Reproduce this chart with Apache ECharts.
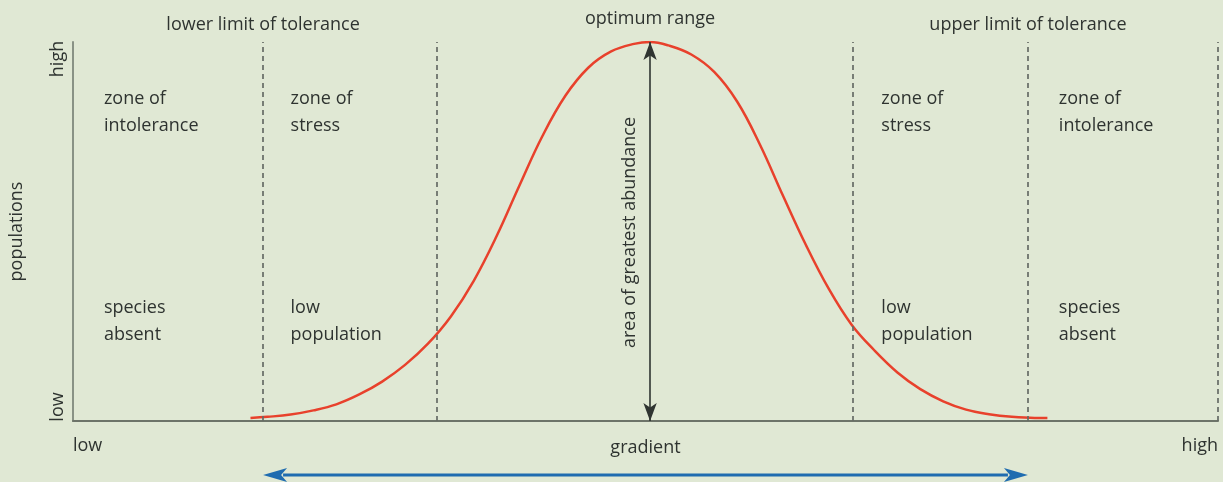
<!DOCTYPE html>
<html>
<head>
<meta charset="utf-8">
<title>Range of tolerance</title>
<script src="https://cdn.jsdelivr.net/npm/echarts@6/dist/echarts.min.js"></script>
<style>
  html, body { margin: 0; padding: 0; background: #e0e8d4; }
  #chart { width: 1223px; height: 482px; }
</style>
</head>
<body>
<div id="chart"></div>
<script>
// Population along an environmental gradient (gradient 0–100, population 0–100)
const gradientX = [15.5, 17, 19, 21, 23, 25, 27, 29, 31, 33, 35, 37, 39, 41, 43, 45, 47, 49, 50.4,
  52, 54, 56, 58, 60, 62, 64, 66, 68, 70, 72, 74, 76, 78, 80, 82, 84, 85.1];
const population = [0.8, 1.1, 1.7, 2.8, 4.4, 7.0, 10.4, 14.8, 20.4, 27.6, 37.0, 48.8, 62.2, 75.2, 85.8, 93.2, 97.5, 99.5, 100,
  99.1, 96.7, 92.1, 84.3, 72.9, 59.5, 46.5, 34.9, 25.4, 18.6, 12.8, 8.4, 5.2, 3.0, 1.8, 1.1, 0.8, 0.8];

// Zone boundaries on the gradient
const lowerLimit = 16.6;
const optimumLow = 31.8;
const optimum = 50.4;
const optimumHigh = 68.1;
const upperLimit = 83.4;
const gradientMax = 100;
const boundaries = [lowerLimit, optimumLow, optimumHigh, upperLimit, gradientMax];

// Axis end labels
const xTickLabels = ['low', 'high'];
const yTickLabels = ['low', 'high'];

// Zone captions: gradient position, population level, text
const zoneX = [2.7, 19.0, 70.6, 86.1];
const zoneUpperY = 85.2;
const zoneLowerY = 30.1;
const zoneUpperText = ['zone of\nintolerance', 'zone of\nstress', 'zone of\nstress', 'zone of\nintolerance'];
const zoneLowerText = ['species\nabsent', 'low\npopulation', 'low\npopulation', 'species\nabsent'];

const FONT = '"Open Sans", "Noto Sans", sans-serif';
const TEXT_COLOR = '#2e3330';
const FS = 18;

const chart = echarts.init(document.getElementById('chart'), null, { renderer: 'canvas' });

chart.setOption({
  backgroundColor: '#e0e8d4',
  animation: false,
  grid: { left: 73, right: 5, top: 42, bottom: 61, containLabel: false, outerBoundsMode: 'none' },
  xAxis: {
    type: 'value', min: 0, max: gradientMax, interval: gradientMax,
    name: 'gradient', nameLocation: 'middle', nameGap: 18, nameMoveOverlap: false,
    nameTextStyle: { fontFamily: FONT, fontSize: FS, color: TEXT_COLOR },
    axisLine: { onZero: false, lineStyle: { color: '#6d7469', width: 2 } },
    axisTick: { show: false },
    splitLine: { show: false },
    axisLabel: {
      margin: 16, fontFamily: FONT, fontSize: FS, color: TEXT_COLOR,
      showMinLabel: true, showMaxLabel: true,
      alignMinLabel: 'left', alignMaxLabel: 'right',
      formatter: v => (v === 0 ? xTickLabels[0] : xTickLabels[1])
    }
  },
  yAxis: {
    type: 'value', min: 0, max: 100, interval: 100,
    name: 'populations', nameLocation: 'middle', nameGap: 47, nameRotate: 90, nameMoveOverlap: false,
    nameTextStyle: { fontFamily: FONT, fontSize: FS, color: TEXT_COLOR },
    axisLine: { onZero: false, lineStyle: { color: '#899285', width: 2 } },
    axisTick: { show: false },
    splitLine: { show: false },
    axisLabel: { show: false }
  },
  series: [
    {
      type: 'line',
      data: gradientX.map((x, i) => [x, population[i]]),
      smooth: 0.4,
      symbol: 'none',
      lineStyle: { color: '#e8412c', width: 2.5 },
      z: 3,
      markLine: {
        silent: true,
        symbol: 'none',
        label: { show: false },
        lineStyle: { color: '#666b65', width: 1.7, type: [5, 4] },
        data: boundaries.map(v => ({ xAxis: v }))
      }
    },
    {
      // area of greatest abundance: double-headed arrow at the optimum
      type: 'line',
      data: [],
      markLine: {
        silent: true,
        symbol: ['arrow', 'arrow'],
        symbolSize: [10, 18],
        label: { show: false },
        lineStyle: { color: '#2f3431', width: 1.6, type: 'solid' },
        data: [[{ coord: [optimum, 0] }, { coord: [optimum, 100] }]]
      },
      z: 4
    }
  ]
});

function px(x, y) { return chart.convertToPixel({ gridIndex: 0 }, [x, y]); }

function txt(x, y, text, opts) {
  return Object.assign({
    type: 'text', x: x, y: y,
    style: Object.assign({
      text: text, fill: TEXT_COLOR, font: FS + 'px ' + FONT,
      align: 'left', verticalAlign: 'middle', lineHeight: 27
    }, (opts && opts.style) || {})
  }, (opts && opts.el) || {});
}

const g = [];
const plotTop = px(0, 100)[1];
const plotBottom = px(0, 0)[1];
const plotLeft = px(0, 0)[0];

// Boundary captions above the plot
g.push(txt(px(lowerLimit, 0)[0], plotTop - 17, 'lower limit of tolerance', { style: { align: 'center' } }));
g.push(txt(px(upperLimit, 0)[0], plotTop - 17, 'upper limit of tolerance', { style: { align: 'center' } }));
g.push(txt(px(optimum, 0)[0], plotTop - 23, 'optimum range', { style: { align: 'center' } }));

// Zone captions
zoneX.forEach((zx, i) => {
  const p1 = px(zx, zoneUpperY);
  const p2 = px(zx, zoneLowerY);
  g.push(txt(p1[0], p1[1] + 14, zoneUpperText[i]));
  g.push(txt(p2[0], p2[1] + 14, zoneLowerText[i]));
});

// Rotated y-axis end labels
g.push(txt(plotLeft - 15, plotTop + 17, yTickLabels[1], { style: { align: 'center' }, el: { rotation: Math.PI / 2 } }));
g.push(txt(plotLeft - 15, plotBottom - 14, yTickLabels[0], { style: { align: 'center' }, el: { rotation: Math.PI / 2 } }));

// Arrow caption
const mid = px(optimum, 50);
g.push(txt(mid[0] - 20, (plotTop + plotBottom) / 2 + 1, 'area of greatest abundance',
  { style: { align: 'center' }, el: { rotation: Math.PI / 2 } }));

// Tolerance range arrow below the axis
const a0 = px(lowerLimit, 0)[0];
const a1 = px(upperLimit, 0)[0];
const ay = plotBottom + 54;
const head = 24;
const hw = 7;
const blue = '#1f6cb0';
g.push({ type: 'line', shape: { x1: a0 + head - 4, y1: ay, x2: a1 - head + 4, y2: ay },
  style: { stroke: blue, lineWidth: 3.2 } });
g.push({ type: 'polygon', shape: { points: [[a0, ay], [a0 + head, ay - hw], [a0 + head - 6, ay], [a0 + head, ay + hw]] },
  style: { fill: blue } });
g.push({ type: 'polygon', shape: { points: [[a1, ay], [a1 - head, ay - hw], [a1 - head + 6, ay], [a1 - head, ay + hw]] },
  style: { fill: blue } });

chart.setOption({ graphic: { elements: g } });
</script>
</body>
</html>
